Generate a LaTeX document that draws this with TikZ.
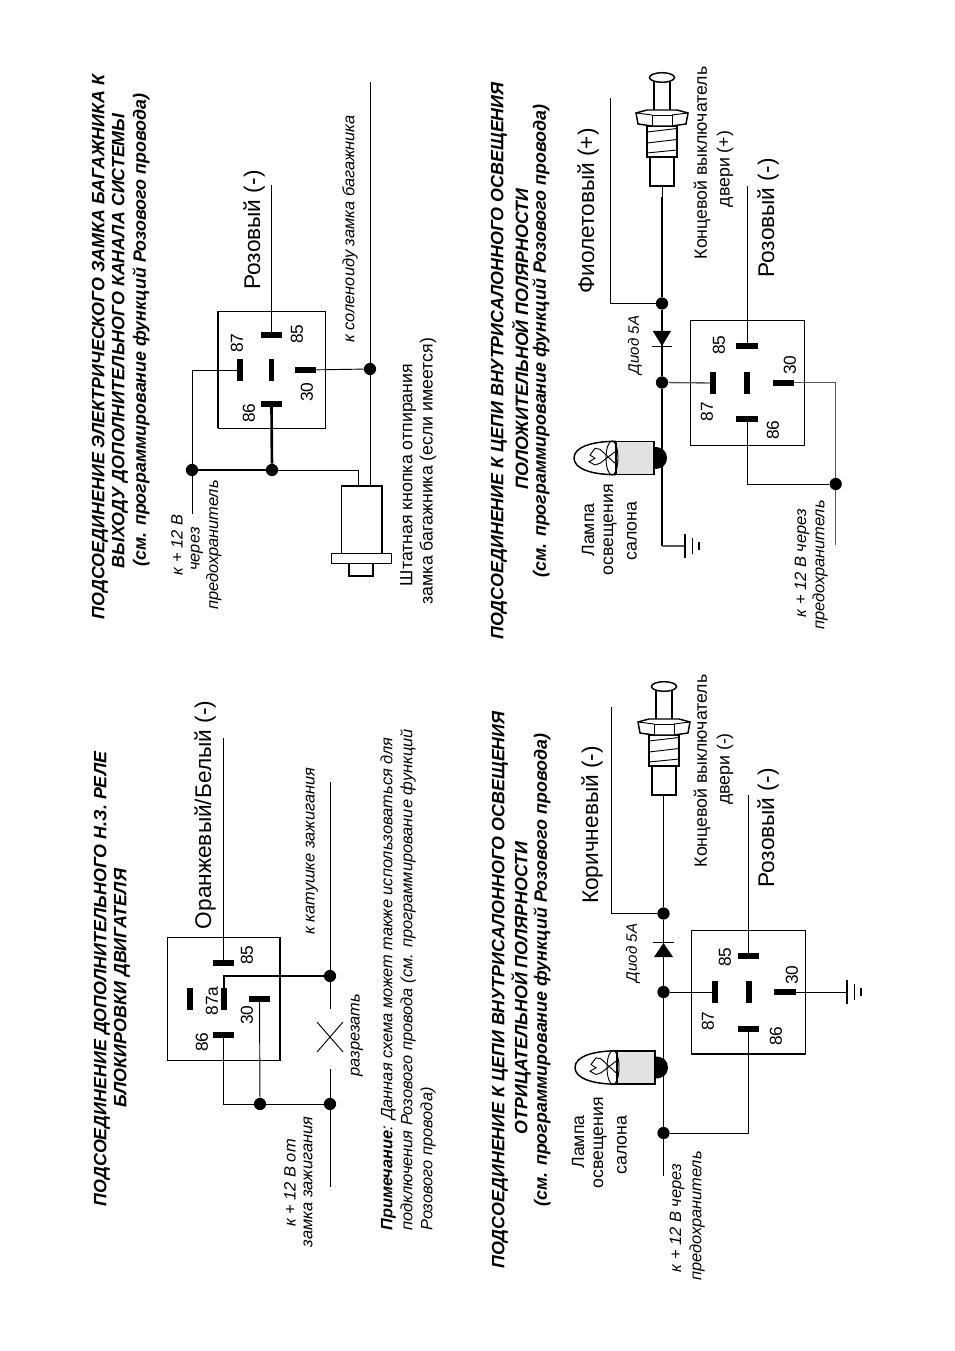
\documentclass[tikz,border=0pt]{standalone}
\usepackage{fontspec}
\setmainfont{Liberation Sans}
\usepackage{xcolor}
\definecolor{lampgray}{HTML}{E2E2E2}
\definecolor{wiregray}{HTML}{555555}

\tikzset{
  wire/.style={line width=0.7pt},
  thickwire/.style={line width=2pt},
  graywire/.style={line width=1pt, wiregray},
  hbar/.style={rectangle, fill=black, inner sep=0pt, minimum width=16pt, minimum height=4.4pt},
  vbar/.style={rectangle, fill=black, inner sep=0pt, minimum width=4.4pt, minimum height=16.5pt},
  dot/.style={circle, fill=black, inner sep=0pt, minimum size=9.2pt},
  titletext/.style={rotate=90, inner sep=0pt, font=\fontsize{13.4}{15}\selectfont\bfseries\itshape},
  bigtext/.style={rotate=90, inner sep=0pt, font=\fontsize{17}{20}\selectfont},
  plaintext/.style={rotate=90, inner sep=0pt, font=\fontsize{13.3}{15}\selectfont},
  italictext/.style={rotate=90, inner sep=0pt, font=\fontsize{12.3}{15}\selectfont\itshape},
  smalltext/.style={rotate=90, inner sep=0pt, font=\fontsize{11.3}{13}\selectfont\itshape},
  pinnum/.style={rotate=90, inner sep=0pt, font=\fontsize{13}{15}\selectfont},
  doorswitch/.pic={
    \draw[line width=1.1pt] (-12,-29) rectangle (12,0);
    \draw[line width=1.1pt] (-15,-60) rectangle (15,-29);
    \draw[wire] (-15,-54) -- (15,-57.5);
    \draw[wire] (-15,-43) -- (15,-46.5);
    \draw[wire] (-15,-33) -- (15,-36);
    \draw[line width=1.1pt, fill=white] (-15,-76) -- (15,-76) -- (26,-73) -- (24,-62) -- (10,-60)
      -- (-10,-60) -- (-24,-62) -- (-26,-73) -- cycle;
    \draw[wire] (-10,-60) -- (-10,-71) -- (10,-71) -- (10,-60);
    \draw[wire] (-26,-73) -- (-10,-71);
    \draw[wire] (26,-73) -- (10,-71);
    \draw[line width=1.1pt] (-8,-76) -- (-8,-104);
    \draw[line width=1.1pt] (8,-76) -- (8,-104);
    \draw[line width=1.1pt, fill=white] (0,-108.5) ellipse [x radius=12.5, y radius=4.8];
  },
  cablamp/.pic={
    \draw[line width=1.1pt, fill=lampgray] (-38,-16.7) rectangle (0,16.7);
    \draw[line width=1.1pt] (-38,-16.7) .. controls (-62,-16.7) and (-80,-11) .. (-80,0)
      .. controls (-80,11) and (-62,16.7) .. (-38,16.7);
    \draw[wire] (-42,0) ellipse [x radius=6, y radius=17];
    \draw[wire] (-54,-8.7) -- (-39,5.3);
    \draw[wire] (-54,5.3) -- (-39,-6.3);
    \draw[wire] (-54,-8.7) -- (-59,-9.7) -- (-64,-3) -- (-59,0.3) -- (-65,3.7) -- (-59,7) -- (-54,5.3);
    \fill (0,-11) .. controls (8,-11) and (13,-7) .. (13,0) .. controls (13,7) and (8,11) .. (0,11) -- cycle;
  },
  groundsym/.pic={
    \draw[line width=1.1pt] (0,-12) -- (0,12);
    \draw[wire] (7,-8) -- (7,8);
    \draw[line width=1.6pt] (14,-4) -- (14,4);
  }
}

\begin{document}
\begin{tikzpicture}[x=0.75pt, y=-0.75pt]
  \useasboundingbox (0,0) rectangle (954,1351);

  % trunk lock relay
  \node[titletext] (Atitle1) at (100,347) {ПОДСОЕДИНЕНИЕ ЭЛЕКТРИЧЕСКОГО ЗАМКА БАГАЖНИКА К};
  \node[titletext] (Atitle2) at (120,341) {ВЫХОДУ ДОПОЛНИТЕЛЬНОГО КАНАЛА СИСТЕМЫ};
  \node[titletext] (Atitle3) at (141,330) {(см. программирование функций Розового провода)};

  \draw[wire] (218,311) rectangle (325,428);
  \draw[thickwire] (218,311) -- (218,428);
  \node[hbar] (A85) at (271.5,335) {};
  \node[vbar] (A87) at (240,370) {};
  \node[vbar] (Amid) at (271.5,370) {};
  \node[hbar] (A30) at (305.5,370) {};
  \node[hbar] (A86) at (271.5,404) {};
  \node[pinnum] (Anum85) at (297,334) {85};
  \node[pinnum] (Anum87) at (237,343) {87};
  \node[pinnum] (Anum30) at (307,392) {30};
  \node[pinnum] (Anum86) at (249,413) {86};

  \node[dot] (Adot1) at (192,470) {};
  \node[dot] (Adot2) at (272,470) {};
  \node[dot] (Adot3) at (370,369) {};
  \coordinate (Aend85) at (271.5,185);
  \coordinate (Aend12) at (192,514);
  \coordinate (Aendsol) at (370,82);
  \coordinate (Abtn1) at (358,486);
  \coordinate (Abtn2) at (370,486);

  \draw[wire] (Aend85) -- (A85);
  \draw[wire] (A87) -| (Adot1);
  \draw[wire] (Adot1) -- (Aend12);
  \draw[thickwire] (A86) -- (Adot2);
  \draw[thickwire] (Adot1) -- (Adot2);
  \draw[wire] (Adot2) -| (Abtn1);
  \draw[wire] (A30) -- (Adot3);
  \draw[wire] (Aendsol) -- (Adot3) -- (Abtn2);

  % button
  \draw[wire] (341,486) rectangle (382,553);
  \draw[thickwire] (341,486) -- (382,486) -- (382,553);
  \draw[wire] (331,553) rectangle (391,563);
  \draw[line width=1.2pt] (349,563) -- (349,576) -- (373,576) -- (373,563);

  \node[bigtext] (Apink) at (254,230) {Розовый (-)};
  \node[italictext] (Asol) at (350,229) {к соленоиду замка багажника};
  \node[italictext] (Aplus1) at (177,545) {к + 12 В};
  \node[italictext] (Aplus2) at (197,549) {через};
  \node[italictext] (Aplus3) at (214,545) {предохранитель};
  \node[plaintext] (Abtntext1) at (408,475) {Штатная кнопка отпирания};
  \node[plaintext] (Abtntext2) at (428,471) {замка багажника (если имеется)};

  % immobilizer relay
  \node[titletext] (Btitle1) at (102,979) {ПОДСОЕДИНЕНИЕ ДОПОЛНИТЕЛЬНОГО Н.З. РЕЛЕ};
  \node[titletext] (Btitle2) at (122,988) {БЛОКИРОВКИ ДВИГАТЕЛЯ};

  \draw[wire] (167,937) rectangle (280,1060);
  \draw[thickwire] (280,937) -- (280,1060);
  \node[hbar] (B85) at (223.5,963) {};
  \node[vbar] (Bleft) at (190,999) {};
  \node[vbar] (B87a) at (224,999) {};
  \node[hbar] (B30) at (259.5,999) {};
  \node[hbar] (B86) at (223.5,1035) {};
  \node[pinnum] (Bnum85) at (247,955) {85};
  \node[pinnum] (Bnum87a) at (212,1001) {87a};
  \node[pinnum] (Bnum30) at (247,1015) {30};
  \node[pinnum] (Bnum86) at (202,1042) {86};

  \node[dot] (Bdot1) at (330,976) {};
  \node[dot] (Bdot2) at (260,1104) {};
  \node[dot] (Bdot3) at (330,1104) {};
  \coordinate (Bend85) at (223.5,738);
  \coordinate (Bcoil) at (330,782);
  \coordinate (Bcut1) at (330,1009);
  \coordinate (Bcut2) at (330,1069);
  \coordinate (Bkey) at (330,1187);

  \draw[wire] (Bend85) -- (B85);
  \draw[thickwire] (B87a) |- (Bdot1);
  \draw[wire] (B30.center) -- (Bdot2);
  \draw[wire] (B86) |- (Bdot2);
  \draw[wire] (Bdot2) -- (Bdot3);
  \draw[wire] (Bcoil) -- (Bdot1) -- (Bcut1);
  \draw[wire] (Bcut2) -- (Bdot3) -- (Bkey);
  % cut mark
  \draw[wire] (317,1022) -- (343,1052);
  \draw[wire] (317,1052) -- (343,1022);

  \node[bigtext] (Borange) at (205,815) {Оранжевый/Белый (-)};
  \node[italictext] (Bcoiltext) at (312,851) {к катушке зажигания};
  \node[italictext] (Bcuttext) at (357,1035) {разрезать};
  \node[italictext] (Bplus1) at (290,1183) {к + 12 В от};
  \node[italictext] (Bplus2) at (308,1182) {замка зажигания};
  \node[italictext, align=left, anchor=west] (Bnote) at (408,1231)
    {\textbf{Примечание}: Данная схема может также использоваться для\\
     подключения Розового провода (см. программирование функций\\
     Розового провода)};

  % interior light, negative
  \node[titletext] (Ctitle1) at (500,990) {ПОДСОЕДИНЕНИЕ К ЦЕПИ ВНУТРИСАЛОННОГО ОСВЕЩЕНИЯ};
  \node[titletext] (Ctitle2) at (521,988) {ОТРИЦАТЕЛЬНОЙ ПОЛЯРНОСТИ};
  \node[titletext] (Ctitle3) at (542,970) {(см. программирование функций Розового провода)};

  \draw[wire] (691,930) rectangle (805,1054);
  \draw[line width=1.4pt] (691,1054) -- (805,1054);
  \node[hbar] (C85) at (748.5,956) {};
  \node[vbar] (C87) at (715,992) {};
  \node[vbar] (Cmid) at (749,992) {};
  \node[hbar] (C30) at (785,992) {};
  \node[hbar] (C86) at (748.5,1029) {};
  \node[pinnum] (Cnum85) at (725,957) {85};
  \node[pinnum] (Cnum87) at (708,1021) {87};
  \node[pinnum] (Cnum30) at (792,975) {30};
  \node[pinnum] (Cnum86) at (776,1036) {86};

  \node[dot] (Cdot1) at (663.5,913.5) {};
  \node[dot] (Cdot2) at (663.5,992) {};
  \node[dot] (Cdot3) at (663.5,1133) {};
  \coordinate (Cswitch) at (663.5,795);
  \coordinate (Cend) at (663.5,1176);
  \coordinate (Cbrown) at (611,707);
  \coordinate (Cend85) at (748.5,795);
  \coordinate (Cgnd) at (847,992);

  \draw[wire] (Cswitch) -- (Cdot1) -- (Cdot2) -- (Cdot3) -- (Cend);
  \draw[wire] (Cbrown) |- (Cdot1);
  \draw[wire] (Cdot2) -- (C87);
  \draw[wire] (Cend85) -- (C85);
  \draw[wire] (C30) -- (Cgnd);
  \draw[wire] (C86) |- (Cdot3);
  % diode
  \fill (654,957) -- (673,957) -- (663.5,943) -- cycle;
  \draw[line width=1.1pt] (653,942.5) -- (674,942.5);
  \pic at (Cgnd) {groundsym};
  \pic at (664,795) {doorswitch};
  \pic at (655,1067.5) {cablamp};

  \node[bigtext] (Cbrowntext) at (592,825) {Коричневый (-)};
  \node[plaintext] (Csw1) at (702,771) {Концевой выключатель};
  \node[plaintext] (Csw2) at (725,769) {двери (-)};
  \node[bigtext] (Cpink) at (768,828) {Розовый (-)};
  \node[smalltext] (Cdiode) at (633,953) {Диод 5А};
  \node[plaintext] (Clamp1) at (578,1142) {Лампа};
  \node[plaintext] (Clamp2) at (600,1143) {освещения};
  \node[plaintext] (Clamp3) at (622,1145) {салона};
  \node[italictext] (Cplus1) at (677,1218) {к + 12 В через};
  \node[italictext] (Cplus2) at (697,1216) {предохранитель};

  % interior light, positive
  \node[titletext] (Dtitle1) at (499,361) {ПОДСОЕДИНЕНИЕ К ЦЕПИ ВНУТРИСАЛОННОГО ОСВЕЩЕНИЯ};
  \node[titletext] (Dtitle2) at (520,339) {ПОЛОЖИТЕЛЬНОЙ ПОЛЯРНОСТИ};
  \node[titletext] (Dtitle3) at (541,341) {(см. программирование функций Розового провода)};

  \draw[wire] (690,320.5) rectangle (804,445.5);
  \node[hbar] (D85) at (747,346) {};
  \node[vbar] (D87) at (713,383) {};
  \node[vbar] (Dmid) at (747,383) {};
  \node[hbar] (D30) at (783.5,382.6) {};
  \node[hbar] (D86) at (747,419) {};
  \node[pinnum] (Dnum85) at (719,345) {85};
  \node[pinnum] (Dnum87) at (707,411.5) {87};
  \node[pinnum] (Dnum30) at (790,365) {30};
  \node[pinnum] (Dnum86) at (773,430) {86};

  \node[dot] (Ddot1) at (662,303.5) {};
  \node[dot] (Ddot2) at (662,382.5) {};
  \node[dot] (Ddot3) at (835.7,484) {};
  \coordinate (Dswitch) at (662,186);
  \coordinate (Dthick) at (662,197);
  \coordinate (Dviolet) at (610,98);
  \coordinate (Dend85) at (747,186);
  \coordinate (Dend12) at (835.7,544.6);
  \coordinate (Dcorner) at (662,546);
  \coordinate (Dgnd) at (685,546);

  \draw[wire] (Dswitch) -- (Dthick);
  \draw[thickwire] (Dthick) -- (Ddot1) -- (Ddot2) -- (Dcorner);
  \draw[graywire] (Dcorner) -- (Dgnd);
  \draw[wire] (Dviolet) |- (Ddot1);
  \draw[graywire] (Ddot2) -- (D87);
  \draw[wire] (Dend85) -- (D85);
  \draw[graywire] (D30) -| (Ddot3);
  \draw[graywire] (Ddot3) -- (Dend12);
  \draw[wire] (D86) |- (Ddot3);
  % diode
  \fill (652.7,331) -- (671,331) -- (662,346) -- cycle;
  \draw[line width=1.1pt] (652,346.7) -- (672,346.7);
  \pic at (Dgnd) {groundsym};
  \pic at (662,186) {doorswitch};
  \pic at (654,458) {cablamp};

  \node[bigtext] (Dviolettext) at (588,211) {Фиолетовый (+)};
  \node[plaintext] (Dsw1) at (702,163) {Концевой выключатель};
  \node[plaintext] (Dsw2) at (725,169) {двери (+)};
  \node[bigtext] (Dpink) at (768,218) {Розовый (-)};
  \node[smalltext] (Ddiode) at (635,345) {Диод 5А};
  \node[plaintext] (Dlamp1) at (588,530) {Лампа};
  \node[plaintext] (Dlamp2) at (610,530) {освещения};
  \node[plaintext] (Dlamp3) at (632,531) {салона};
  \node[italictext] (Dplus1) at (802,563) {к + 12 В через};
  \node[italictext] (Dplus2) at (820,565) {предохранитель};

\end{tikzpicture}
\end{document}
